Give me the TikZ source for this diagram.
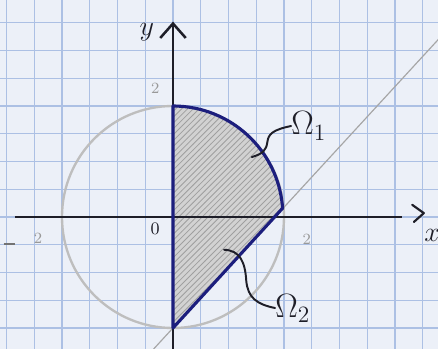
\documentclass[tikz,border=0pt]{standalone}
\usetikzlibrary{patterns,arrows.meta}
\definecolor{paper}{RGB}{236,240,248}
\definecolor{gridblue}{RGB}{172,192,228}
\definecolor{navy}{RGB}{28,30,125}
\definecolor{pencil}{RGB}{190,190,190}
\definecolor{ink}{RGB}{30,30,40}
\tikzset{
  greylabel/.style={text=gray!80, font=\footnotesize, inner sep=0pt},
  inklabel/.style={text=ink, inner sep=0pt},
  leader/.style={ink, line width=1pt, line cap=round, line join=round},
}
\begin{document}
\begin{tikzpicture}
\useasboundingbox (-3.117,-2.378) rectangle (4.775,3.910);
\clip (-3.117,-2.378) rectangle (4.775,3.910);
\fill[paper] (-3.117,-2.378) rectangle (4.775,3.910);
\draw[gridblue, line width=0.6pt, step=0.5] (-3.5,-2.5) grid (5,4);
% region
\fill[gray!35] (0,2) arc[start angle=90,end angle=4,radius=1.98] -- (0,-2) -- cycle;
\fill[pattern=north east lines, pattern color=gray!75] (0,2) arc[start angle=90,end angle=4,radius=1.98] -- (0,-2) -- cycle;
% circle and line
\draw[pencil, line width=1.2pt] (0,0) circle (2);
\draw[gray!70, line width=0.6pt] (-0.35,-2.38) -- (4.8,3.22);
% axes
\draw[ink, line width=1.1pt] (-2.85,0) -- (4.13,0);
\draw[ink, line width=1.1pt, line join=round, line cap=round] (4.31,0.22) -- (4.52,0.07) -- (4.34,-0.09);
\draw[ink, line width=1.3pt, -{Straight Barb[length=2.6mm,width=4.6mm]}] (0,-2.45) -- (0,3.52);
% boundary
\draw[navy, line width=1.6pt, line join=round] (0,-2) -- (0,2) arc[start angle=90,end angle=4,radius=1.98] -- cycle;
% labels
\node[greylabel] (ytwo) at (-0.32,2.32) {2};
\node[inklabel, font=\small] (orig) at (-0.32,-0.22) {0};
\node[greylabel] (xtwo) at (2.41,-0.41) {2};
\draw[gray!90!black, line width=0.9pt] (-3.05,-0.49) -- (-2.85,-0.49);
\node[greylabel] (mxtwo) at (-2.43,-0.38) {2};
\node[inklabel, font=\Large] (ylab) at (-0.47,3.33) {$y$};
\node[inklabel, font=\Large] (xlab) at (4.67,-0.34) {$x$};
\node[inklabel, font=\LARGE] (om1) at (2.45,1.64) {$\Omega_1$};
\node[inklabel, font=\LARGE] (om2) at (2.16,-1.64) {$\Omega_2$};
% leaders
\coordinate (a1) at (1.42,1.08);
\coordinate (a2) at (0.92,-0.59);
\draw[leader] (a1) .. controls (1.62,1.14) and (1.68,1.2) .. (1.7,1.35) .. controls (1.72,1.5) and (1.8,1.57) .. (om1.west);
\draw[leader] (a2) .. controls (1.2,-0.6) and (1.3,-0.8) .. (1.32,-1.15) .. controls (1.35,-1.45) and (1.5,-1.57) .. (om2.west);
\end{tikzpicture}
\end{document}
